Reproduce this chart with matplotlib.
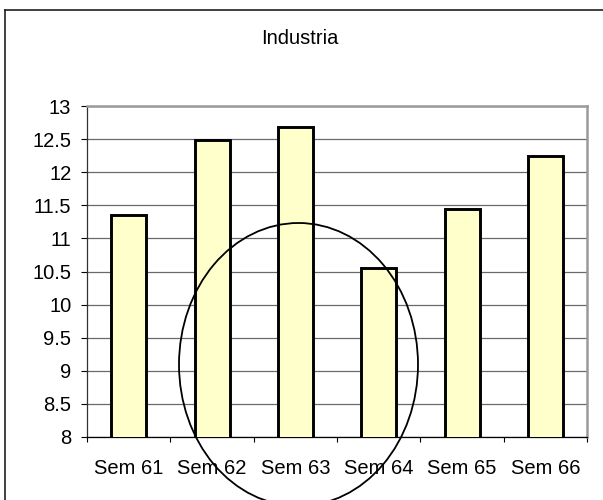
import numpy as np
import matplotlib.pyplot as plt
from matplotlib.patches import Ellipse
from matplotlib.lines import Line2D

plt.rcParams['font.family'] = ['Liberation Sans', 'DejaVu Sans']

# data
weeks = ['Sem 61', 'Sem 62', 'Sem 63', 'Sem 64', 'Sem 65', 'Sem 66']
values = [11.35, 12.49, 12.69, 10.55, 11.45, 12.24]
yticks = [8, 8.5, 9, 9.5, 10, 10.5, 11, 11.5, 12, 12.5, 13]

W, H = 603, 500
fig = plt.figure(figsize=(W / 100, H / 100), dpi=100)
fig.patch.set_facecolor('white')

# plot area in pixel terms -> figure fractions
left, right, top, bottom = 87, 587, 106, 437
ax = fig.add_axes([left / W, 1 - bottom / H, (right - left) / W, (bottom - top) / H])

x = np.arange(len(weeks))
ax.bar(x, values, width=0.42, color='#FFFFCC', edgecolor='black', linewidth=2.1,
       zorder=3)

ax.set_xlim(-0.5, len(weeks) - 0.5)
ax.set_ylim(8, 13)

# y axis
ax.set_yticks(yticks)
ax.set_yticklabels(['%g' % v for v in yticks], fontsize=14.5)
ax.tick_params(axis='y', direction='out', length=4.3, width=0.8, pad=7, colors='black')
ax.yaxis.grid(True, color='#6a6a6a', linewidth=0.9, zorder=0)
ax.set_axisbelow(True)

# x axis: ticks between categories, labels centred under bars
ax.set_xticks(np.arange(len(weeks) + 1) - 0.5)
ax.set_xticklabels([])
ax.tick_params(axis='x', which='major', direction='out', length=3.6, width=0.8)
ax.set_xticks(x, minor=True)
ax.set_xticklabels(weeks, minor=True, fontsize=14.5)
ax.tick_params(axis='x', which='minor', length=0, pad=16)

ax.spines['left'].set_color('#303030')
ax.spines['left'].set_linewidth(0.9)
ax.spines['bottom'].set_color('black')
ax.spines['bottom'].set_linewidth(0.9)
for s in ('top', 'right'):
    ax.spines[s].set_color('#9a9a9a')
    ax.spines[s].set_linewidth(1.8)

fig.text(300 / W, 1 - 38.5 / H, 'Industria', fontsize=14.5, ha='center', va='center')

# outer chart frame (right and bottom edges fall outside the picture)
fig.add_artist(Line2D([5 / W, 5 / W], [0, 1 - 10 / H], transform=fig.transFigure,
                      color='#202020', linewidth=1.2))
fig.add_artist(Line2D([5 / W, 1], [1 - 10 / H, 1 - 10 / H], transform=fig.transFigure,
                      color='#202020', linewidth=1.2))

# hand-drawn ellipse over the middle weeks
fig.add_artist(Ellipse((298.5 / W, 1 - 364.5 / H), 239 / W, 283 / H,
                       transform=fig.transFigure, fill=False,
                       edgecolor='black', linewidth=1.3, zorder=10))

fig.savefig('out.png', dpi=100)
